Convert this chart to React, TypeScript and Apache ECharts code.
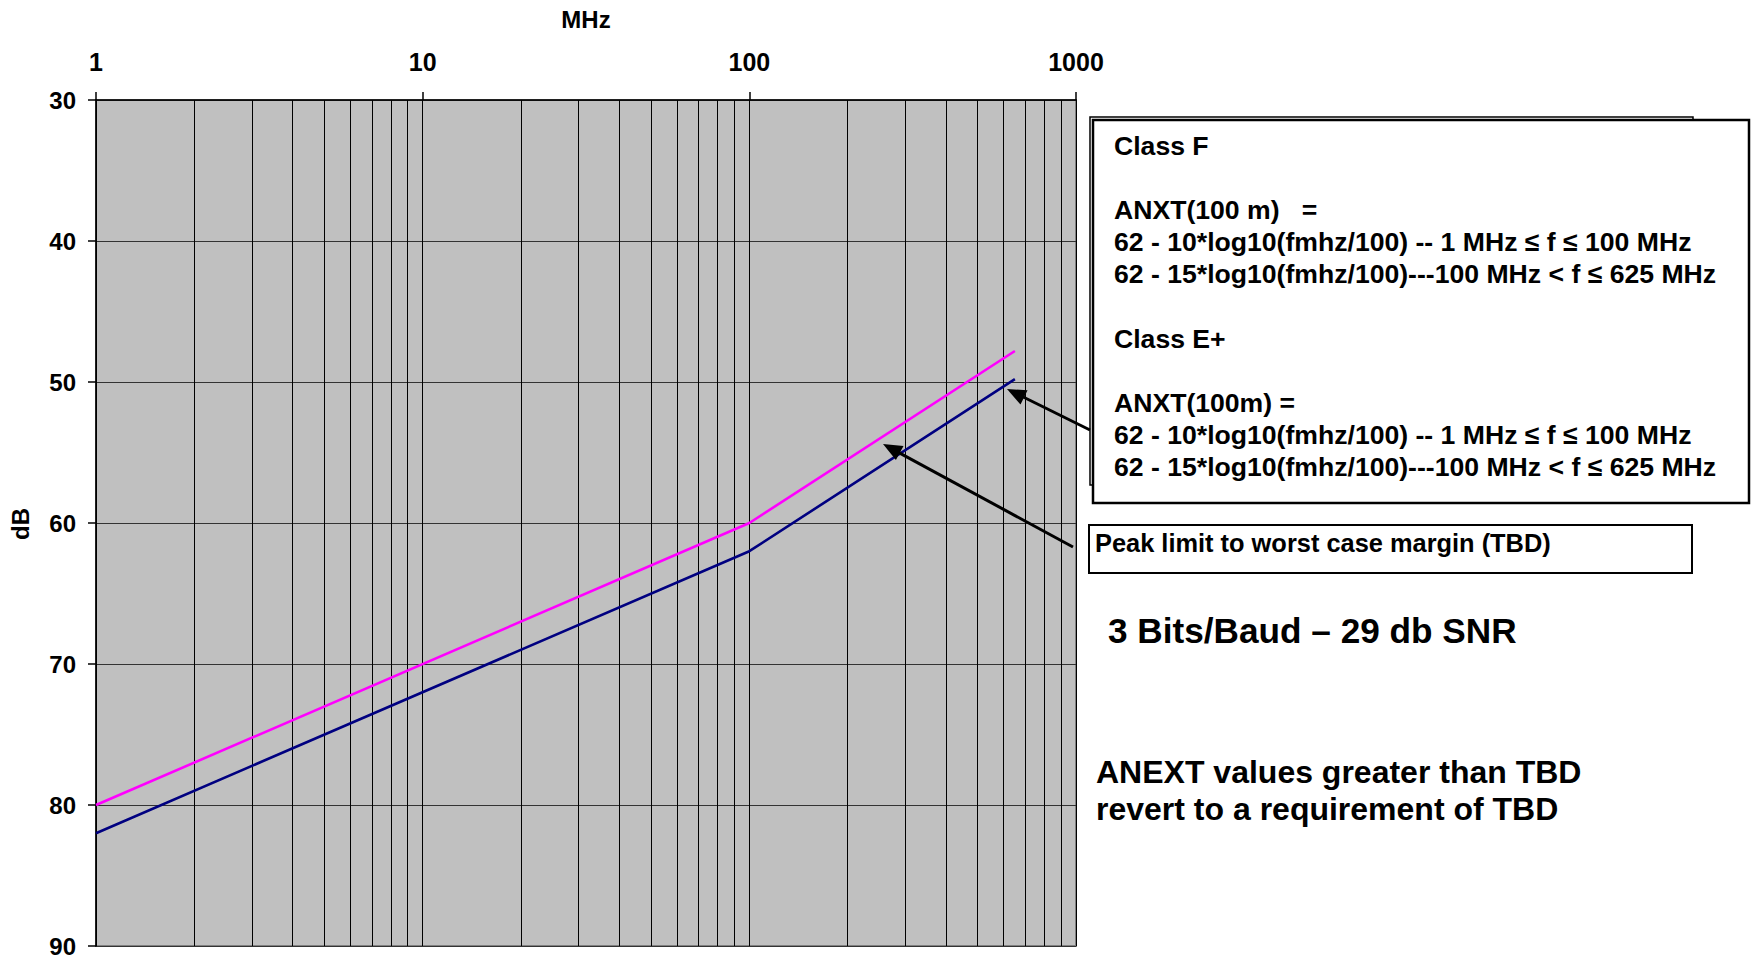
import React, { useEffect, useRef } from "react";
import * as echarts from "echarts";

// ---- data ----
const freqMHz = [1, 100, 650];
const anxtLimit = [82, 62, 49.8]; // navy
const peakLimit = [80, 60, 47.8]; // magenta
const xMinorGrid = [2, 3, 4, 5, 6, 7, 8, 9, 20, 30, 40, 50, 60, 70, 80, 90, 200, 300, 400, 500, 600, 700, 800, 900];
const yMin = 30;
const yMax = 90;
const yStep = 10;

const boxLines = [
  "Class F",
  "",
  "ANXT(100 m)   =",
  "62 - 10*log10(fmhz/100) -- 1 MHz \u2264 f \u2264 100 MHz",
  "62 - 15*log10(fmhz/100)---100 MHz < f \u2264 625 MHz",
  "",
  "Class E+",
  "",
  "ANXT(100m) =",
  "62 - 10*log10(fmhz/100) -- 1 MHz \u2264 f \u2264 100 MHz",
  "62 - 15*log10(fmhz/100)---100 MHz < f \u2264 625 MHz",
];
const peakText = "Peak limit to worst case margin (TBD)";
const snrText = "3 Bits/Baud \u2013 29 db SNR";
const noteLines = ["ANEXT values greater than TBD", "revert to a requirement of TBD"];

const FONT = "'Liberation Sans', Arial, sans-serif";

function arrow(tail: [number, number], tip: [number, number], len = 19, half = 8) {
  const dx = tip[0] - tail[0];
  const dy = tip[1] - tail[1];
  const d = Math.hypot(dx, dy);
  const ux = dx / d;
  const uy = dy / d;
  const bx = tip[0] - ux * len;
  const by = tip[1] - uy * len;
  return [
    {
      type: "line",
      shape: { x1: tail[0], y1: tail[1], x2: bx + ux * 2, y2: by + uy * 2 },
      style: { stroke: "#000", lineWidth: 3 },
      z: 100,
    },
    {
      type: "polygon",
      shape: {
        points: [
          [tip[0], tip[1]],
          [bx - uy * half, by + ux * half],
          [bx + uy * half, by - ux * half],
        ],
      },
      style: { fill: "#000" },
      z: 100,
    },
  ];
}

export default function App() {
  const ref = useRef<HTMLDivElement>(null);
  useEffect(() => {
    if (!ref.current) return;
    const chart = echarts.init(ref.current, undefined, { renderer: "svg" });
    const boxTextEls = boxLines
      .map((t, i) => ({ t, i }))
      .filter((o) => o.t.length > 0)
      .map((o) => ({
        type: "text",
        x: 1114,
        y: 146 + o.i * 32.1,
        z: 102,
        style: {
          text: o.t,
          font: `bold 26.6px ${FONT}`,
          fill: "#000",
          verticalAlign: "middle",
          align: "left",
        },
      }));
    const option: any = {
      animation: false,
      backgroundColor: "#fff",
      grid: {
        left: 96,
        top: 100,
        width: 980,
        height: 847,
        show: true,
        backgroundColor: "#C0C0C0",
        borderColor: "#808080",
        borderWidth: 2,
      },
      xAxis: {
        type: "log",
        logBase: 10,
        min: 1,
        max: 1000,
        position: "top",
        axisLine: { show: true, lineStyle: { color: "#000", width: 1.5 } },
        axisTick: { show: true, length: 8, inside: false, lineStyle: { color: "#000", width: 1.5 } },
        axisLabel: {
          show: true,
          margin: 26,
          color: "#000",
          fontFamily: FONT,
          fontWeight: "bold",
          fontSize: 25,
          formatter: (v: number) => String(Math.round(v)),
        },
        splitLine: { show: true, lineStyle: { color: "#000", width: 1 } },
        minorTick: { show: false },
      },
      yAxis: {
        type: "value",
        inverse: true,
        min: yMin,
        max: yMax,
        interval: yStep,
        axisLine: { show: true, lineStyle: { color: "#000", width: 1.5 } },
        axisTick: { show: true, length: 8, inside: false, lineStyle: { color: "#000", width: 1.5 } },
        axisLabel: {
          show: true,
          margin: 20,
          color: "#000",
          fontFamily: FONT,
          fontWeight: "bold",
          fontSize: 24,
        },
        splitLine: { show: true, lineStyle: { color: "#333", width: 1 } },
      },
      series: [
        {
          type: "line",
          name: "minor grid",
          data: [],
          z: 1,
          silent: true,
          markLine: {
            silent: true,
            symbol: ["none", "none"],
            label: { show: false },
            lineStyle: { color: "#000", width: 1, type: "solid" },
            emphasis: { disabled: true },
            data: xMinorGrid.map((v) => ({ xAxis: v })),
          },
        },
        {
          type: "line",
          name: "Peak limit",
          data: freqMHz.map((f, i) => [f, peakLimit[i]]),
          showSymbol: false,
          symbol: "none",
          lineStyle: { color: "#FF00FF", width: 2.6 },
          z: 5,
        },
        {
          type: "line",
          name: "ANXT",
          data: freqMHz.map((f, i) => [f, anxtLimit[i]]),
          showSymbol: false,
          symbol: "none",
          lineStyle: { color: "#000080", width: 2.6 },
          z: 5,
        },
      ],
      graphic: [
        {
          type: "text",
          x: 586,
          y: 19,
          style: {
            text: "MHz",
            font: `bold 24px ${FONT}`,
            fill: "#000",
            align: "center",
            verticalAlign: "middle",
          },
        },
        {
          type: "text",
          x: 20,
          y: 524,
          rotation: Math.PI / 2,
          style: {
            text: "dB",
            font: `bold 24px ${FONT}`,
            fill: "#000",
            align: "center",
            verticalAlign: "middle",
          },
        },
        {
          type: "rect",
          shape: { x: 1090, y: 117, width: 603, height: 368 },
          style: { fill: "#fff", stroke: "#000", lineWidth: 1.5 },
          z: 100,
        },
        {
          type: "rect",
          shape: { x: 1093, y: 120, width: 656, height: 383 },
          style: { fill: "#fff", stroke: "#000", lineWidth: 2.5 },
          z: 101,
        },
        ...boxTextEls,
        {
          type: "rect",
          shape: { x: 1089, y: 525, width: 603, height: 48 },
          style: { fill: "#fff", stroke: "#000", lineWidth: 2 },
          z: 100,
        },
        {
          type: "text",
          x: 1095,
          y: 543,
          z: 101,
          style: {
            text: peakText,
            font: `bold 25.4px ${FONT}`,
            fill: "#000",
            align: "left",
            verticalAlign: "middle",
          },
        },
        {
          type: "text",
          x: 1108,
          y: 630,
          z: 101,
          style: {
            text: snrText,
            font: `bold 35.2px ${FONT}`,
            fill: "#000",
            align: "left",
            verticalAlign: "middle",
          },
        },
        ...noteLines.map((t, i) => ({
          type: "text",
          x: 1096,
          y: 772 + i * 37,
          z: 101,
          style: {
            text: t,
            font: `bold 32px ${FONT}`,
            fill: "#000",
            align: "left",
            verticalAlign: "middle",
          },
        })),
        ...arrow([1090, 430], [1007, 389]),
        ...arrow([1073, 547], [883, 444]),
      ],
    };
    chart.setOption(option);
    return () => chart.dispose();
  }, []);
  return (
    <div
      ref={ref}
      style={{ position: "fixed", left: 0, top: 0, width: 1752, height: 958 }}
    />
  );
}
